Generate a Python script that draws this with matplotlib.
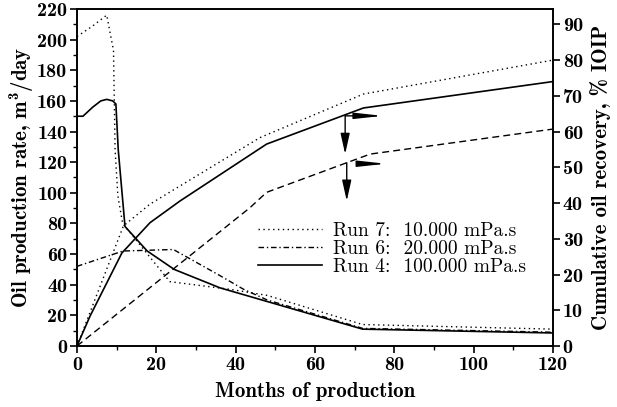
import numpy as np
import matplotlib.pyplot as plt
from matplotlib.ticker import MultipleLocator

plt.rcParams['font.family'] = 'cmb10'
plt.rcParams['mathtext.fontset'] = 'custom'
plt.rcParams['mathtext.rm'] = 'cmb10'
plt.rcParams['mathtext.it'] = 'cmb10'
plt.rcParams['mathtext.bf'] = 'cmb10'
plt.rcParams['axes.unicode_minus'] = False

# oil production rate, m3/day (left axis)
run7_rate_t = [0, 4, 7.5, 8.3, 9.2, 9.6, 10.3, 11.5, 23.4, 38.6, 48, 72, 120]
run7_rate = [202, 209, 216, 205, 193, 128, 98, 80, 42, 37, 33, 14, 11]
run6_rate_t = [0, 11.6, 24.3, 36, 42, 48, 72, 120]
run6_rate = [52, 62, 63, 46, 37, 30, 11.5, 9]
run4_rate_t = [0, 1.5, 4, 6, 7.5, 9, 9.8, 10.4, 12.1, 17.7, 24.5, 36, 48, 72, 120]
run4_rate = [150, 150, 156, 160, 161, 160, 158, 128, 78, 62, 50, 38, 29, 11, 8.5]

# cumulative oil recovery, % IOIP (right axis)
run7_cum_t = [0, 11.7, 18.4, 46.1, 72.2, 120]
run7_cum = [0, 33.6, 39.7, 58.3, 70.5, 80]
run6_cum_t = [0, 43.6, 47.8, 73.9, 120]
run6_cum = [0, 38.7, 43, 53.7, 60.7]
run4_cum_t = [0, 3.3, 11.3, 18.4, 26, 47.8, 72.2, 120]
run4_cum = [0, 8.4, 26, 34.5, 40.6, 56.5, 66.6, 74]

labels = ['Run 7:  10.000 mPa.s', 'Run 6:  20.000 mPa.s', 'Run 4:  100.000 mPa.s']

fig = plt.figure(figsize=(6.17, 4.07), dpi=100)
ax = fig.add_axes([0.1248, 0.1499, 0.7715, 0.828])
ax2 = ax.twinx()

dot = (0, (1, 2.5))
dashdot = (0, (4, 2, 1, 2))
dash = (0, (5, 3))

l7, = ax.plot(run7_rate_t, run7_rate, color='k', lw=1, ls=dot)
l6, = ax.plot(run6_rate_t, run6_rate, color='k', lw=1, ls=dashdot)
l4, = ax.plot(run4_rate_t, run4_rate, color='k', lw=1.2, ls='-')

ax2.plot(run7_cum_t, run7_cum, color='k', lw=1, ls=dot)
ax2.plot(run6_cum_t, run6_cum, color='k', lw=1, ls=dash)
ax2.plot(run4_cum_t, run4_cum, color='k', lw=1.2, ls='-')

ax.set_xlim(0, 120)
ax.set_ylim(0, 220)
ax2.set_ylim(0, 94.3)

ax.xaxis.set_major_locator(MultipleLocator(20))
ax.xaxis.set_minor_locator(MultipleLocator(10))
ax.yaxis.set_major_locator(MultipleLocator(20))
ax.yaxis.set_minor_locator(MultipleLocator(10))
ax2.yaxis.set_major_locator(MultipleLocator(10))

for a in (ax, ax2):
    a.tick_params(which='major', direction='out', length=5, width=1.2, labelsize=14.5, pad=2)
    a.tick_params(which='minor', direction='out', length=3, width=1)
    for s in a.spines.values():
        s.set_linewidth(1.2)

ax.set_xlabel('Months of production', fontsize=15, labelpad=6)
ax.set_ylabel('Oil production rate, m$^3$/day', fontsize=15, labelpad=1)
ax2.set_ylabel('Cumulative oil recovery, % IOIP', fontsize=15, labelpad=5)

# arrows pointing to the axes
h = dict(arrowstyle='-|>,head_length=1.2,head_width=0.13', color='k', lw=1,
         mutation_scale=14, shrinkA=0, shrinkB=0)
v = dict(arrowstyle='-|>,head_length=0.9,head_width=0.2', color='k', lw=1,
         mutation_scale=14, shrinkA=0, shrinkB=0)
ax2.annotate('', xy=(77.1, 64.4), xytext=(67.6, 64.4), arrowprops=h)
ax2.annotate('', xy=(67.6, 53.7), xytext=(67.6, 64.4), arrowprops=v)
ax2.annotate('', xy=(77.9, 51), xytext=(73.9, 51), arrowprops=h)
ax2.annotate('', xy=(68, 40.6), xytext=(68, 51.3), arrowprops=v)

leg = ax.legend([l7, l6, l4], labels, loc='upper left', bbox_to_anchor=(0.38, 0.368),
                frameon=False, handlelength=3.3, handletextpad=0.55, labelspacing=0.0,
                borderpad=0, borderaxespad=0, prop={'family': 'cmr10', 'size': 14})

fig.savefig('out.png', dpi=100)
